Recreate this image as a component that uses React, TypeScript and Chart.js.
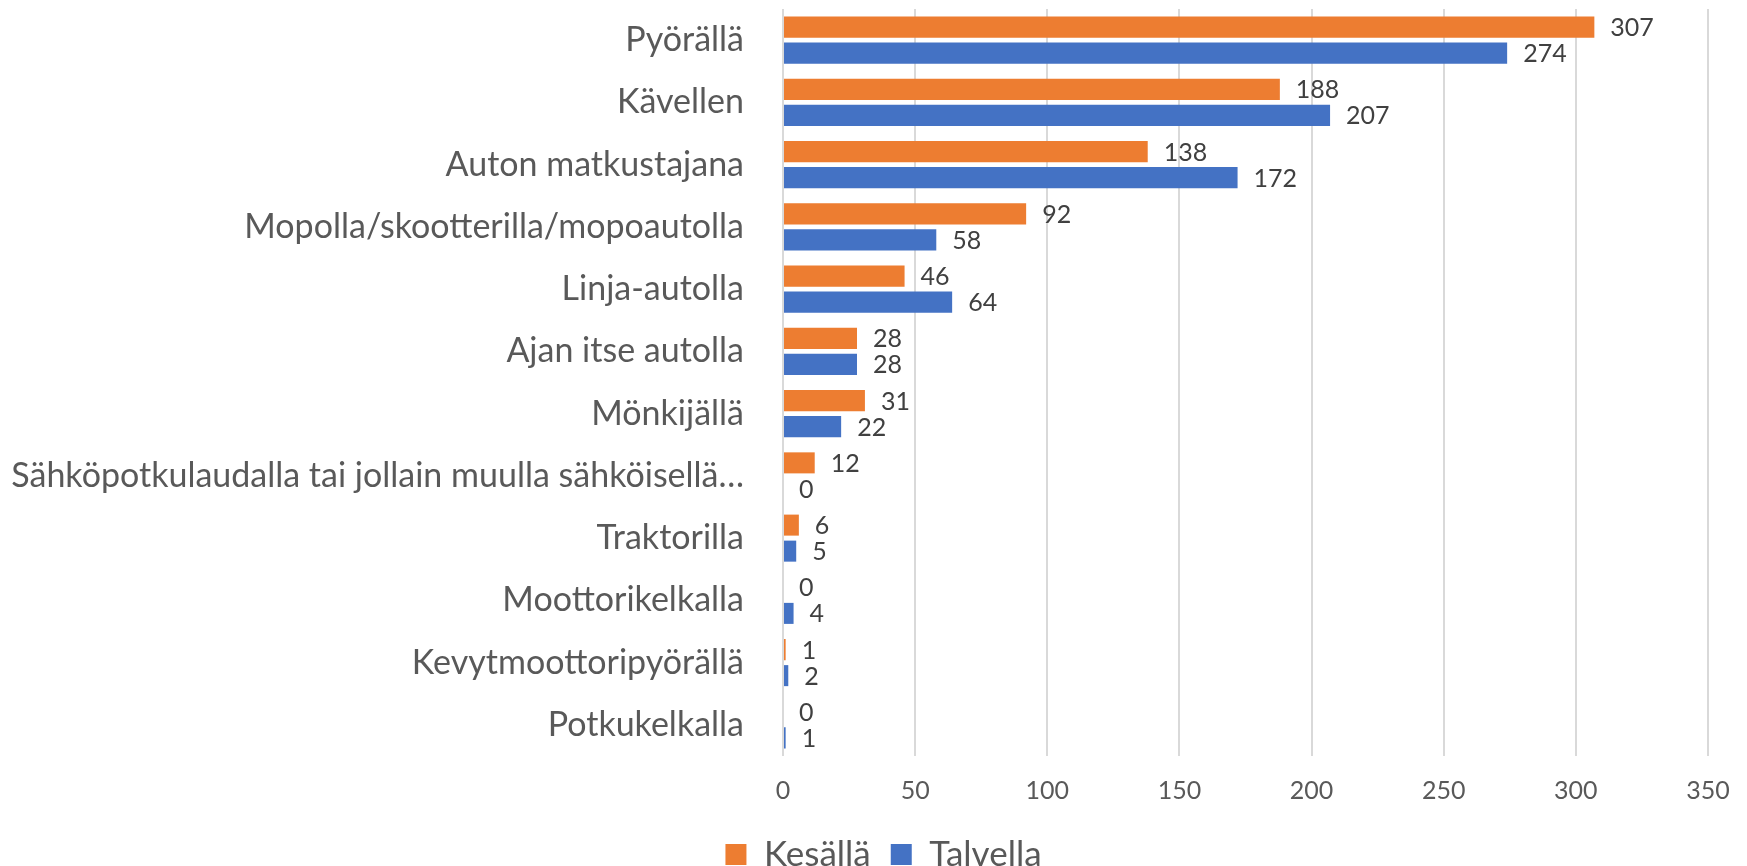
import React, { useEffect, useRef } from "react";
import { Chart, registerables } from "chart.js";

Chart.register(...registerables);

const categories = [
  "Pyörällä",
  "Kävellen",
  "Auton matkustajana",
  "Mopolla/skootterilla/mopoautolla",
  "Linja-autolla",
  "Ajan itse autolla",
  "Mönkijällä",
  "Sähköpotkulaudalla tai jollain muulla sähköisellä…",
  "Traktorilla",
  "Moottorikelkalla",
  "Kevytmoottoripyörällä",
  "Potkukelkalla",
];
const summerValues = [307, 188, 138, 92, 46, 28, 31, 12, 6, 0, 1, 0];
const winterValues = [274, 207, 172, 58, 64, 28, 22, 0, 5, 4, 2, 1];
const seriesNames = ["Kesällä", "Talvella"];
const xMin = 0;
const xMax = 350;
const xStep = 50;

const FONT = "Lato, 'Open Sans', sans-serif";
const CANVAS_W = 1747;
const CANVAS_H = 882;

const dataLabels = {
  id: "dataLabels",
  afterDatasetsDraw(chart: any) {
    const ctx = chart.ctx;
    ctx.save();
    ctx.font = `25px ${FONT}`;
    ctx.fillStyle = "#404040";
    ctx.textAlign = "left";
    ctx.textBaseline = "middle";
    chart.data.datasets.forEach((ds: any, i: number) => {
      const meta = chart.getDatasetMeta(i);
      meta.data.forEach((el: any, j: number) => {
        ctx.fillText(String(ds.data[j]), el.x + 16, el.y + 1);
      });
    });
    ctx.restore();
  },
};

export default function App() {
  const ref = useRef<HTMLCanvasElement | null>(null);
  useEffect(() => {
    if (!ref.current) return;
    Chart.defaults.font.family = FONT;
    const chart = new Chart(ref.current, {
      type: "bar",
      data: {
        labels: categories,
        datasets: [
          {
            label: seriesNames[0],
            data: summerValues,
            backgroundColor: "#ED7D31",
            categoryPercentage: 0.836,
            barPercentage: 0.808,
          },
          {
            label: seriesNames[1],
            data: winterValues,
            backgroundColor: "#4472C4",
            categoryPercentage: 0.836,
            barPercentage: 0.808,
          },
        ],
      },
      options: {
        indexAxis: "y",
        responsive: false,
        animation: false,
        layout: { padding: { top: 9, left: 0, right: -20, bottom: 0 } },
        plugins: {
          tooltip: { enabled: false },
          legend: {
            position: "bottom",
            labels: {
              font: { size: 35, family: FONT },
              color: "#595959",
              boxWidth: 21,
              boxHeight: 21,
              padding: 20,
            },
          },
        },
        scales: {
          x: {
            type: "linear",
            min: xMin,
            max: xMax,
            ticks: {
              stepSize: xStep,
              font: { size: 25, family: FONT },
              color: "#595959",
              padding: 20,
            },
            grid: { color: "#D9D9D9", lineWidth: 2, drawTicks: false },
            border: { display: false },
            afterFit: (s: any) => {
              s.height = 61;
              s.paddingRight = 0;
              s.paddingLeft = 0;
            },
          },
          y: {
            type: "category",
            grid: { display: false },
            border: { display: false },
            ticks: {
              font: { size: 34, family: FONT },
              color: "#595959",
              padding: 31,
              autoSkip: false,
            },
            afterFit: (s: any) => {
              s.width = 783;
              s.paddingTop = 0;
              s.paddingBottom = 0;
            },
          },
          ySpacer: {
            type: "category",
            position: "right",
            grid: { display: false },
            border: { display: false },
            ticks: { display: false },
            afterFit: (s: any) => {
              s.width = 59;
              s.paddingTop = 0;
              s.paddingBottom = 0;
            },
          },
        },
      },
      plugins: [dataLabels],
    });
    return () => chart.destroy();
  }, []);
  return (
    <div
      style={{
        position: "fixed",
        left: 0,
        top: 0,
        width: CANVAS_W,
        height: 866,
        overflow: "hidden",
        background: "#fff",
      }}
    >
      <canvas ref={ref} width={CANVAS_W} height={CANVAS_H} />
    </div>
  );
}
